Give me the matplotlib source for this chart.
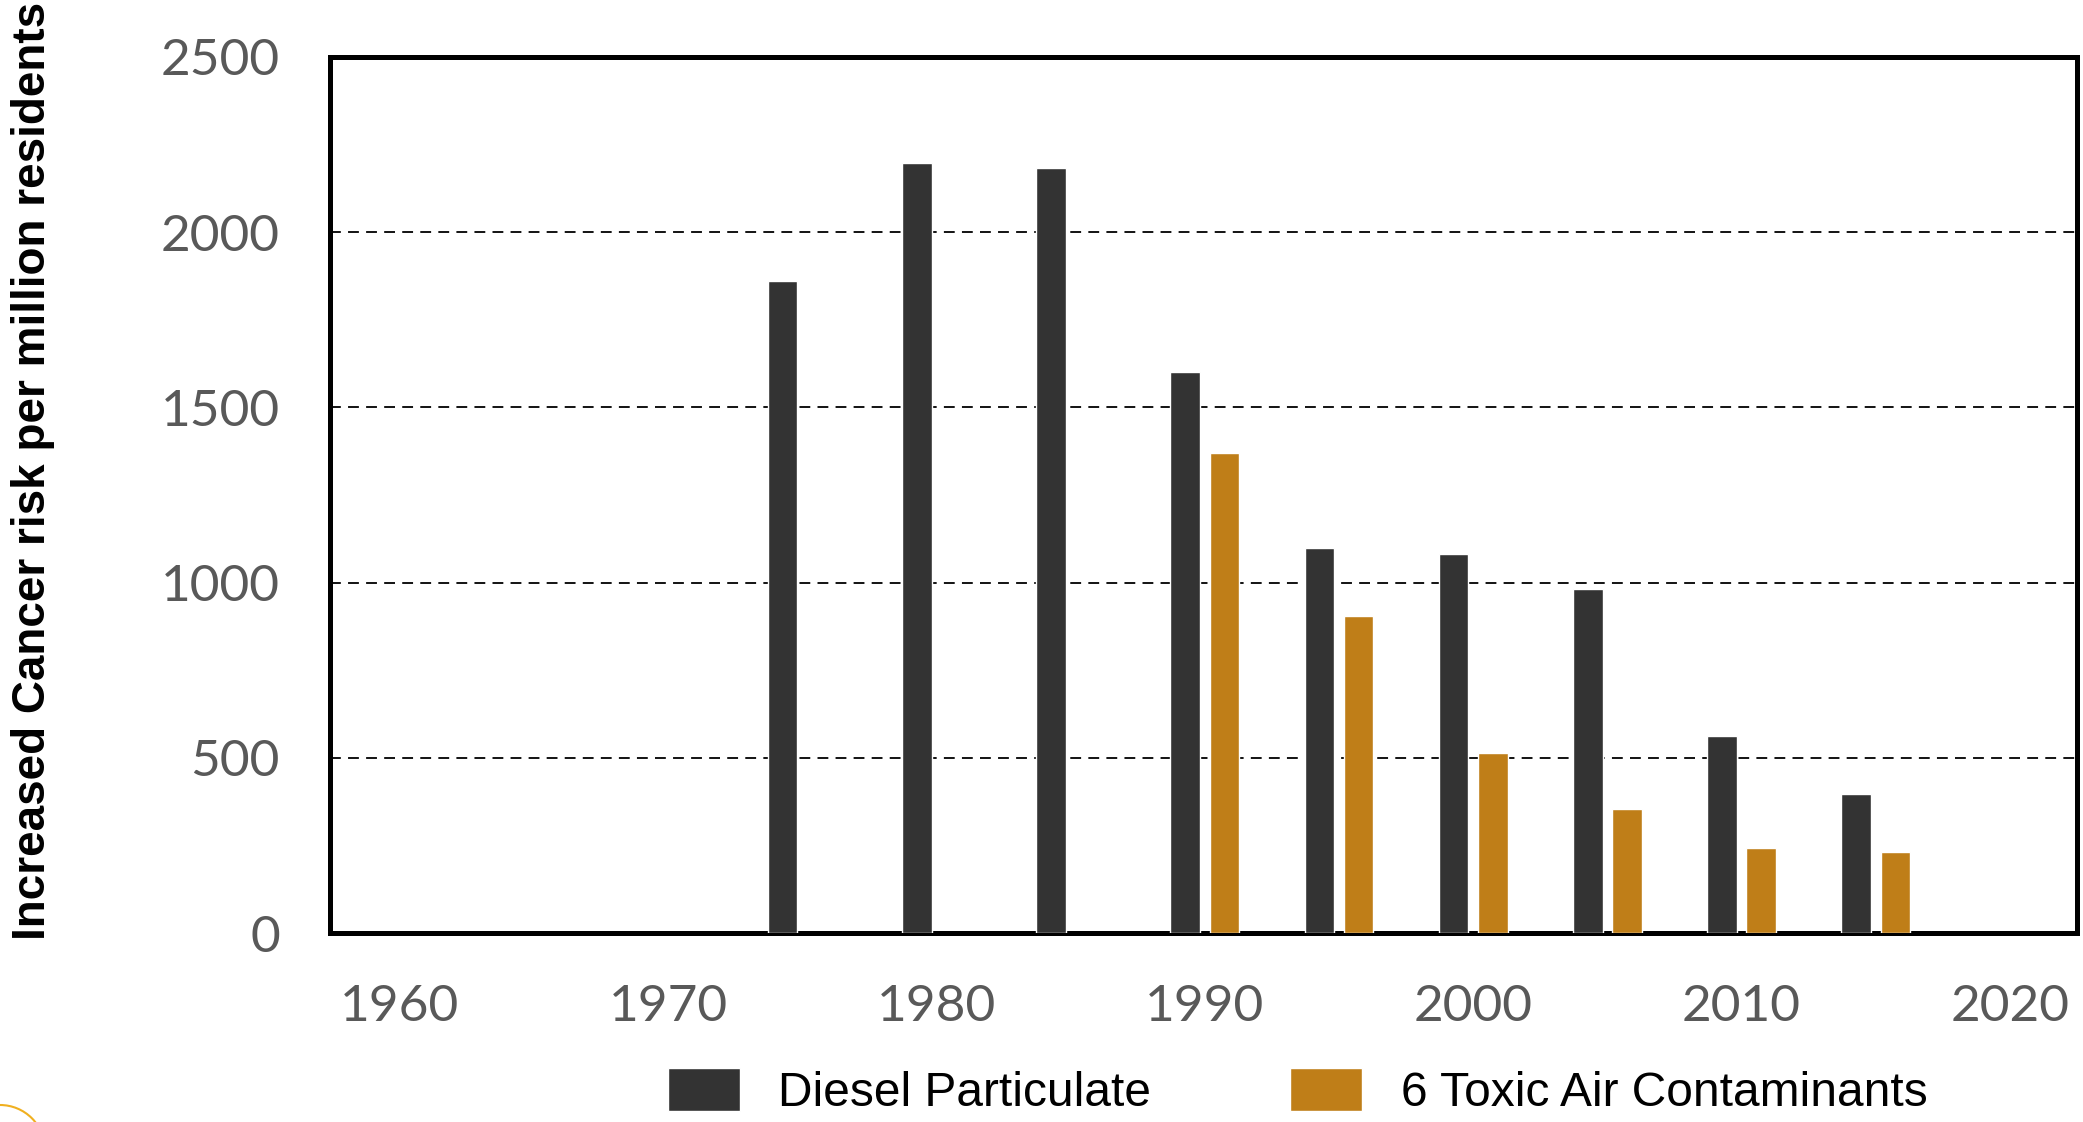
import matplotlib
matplotlib.use("Agg")
import matplotlib.pyplot as plt
import numpy as np
from matplotlib.patches import Circle

# Data
years = [1975, 1980, 1985, 1990, 1995, 2000, 2005, 2010, 2015]
diesel = [1860, 2197, 2182, 1600, 1099, 1081, 983, 561, 398]
toxic_years = [1990, 1995, 2000, 2005, 2010, 2015]
toxic = [1369, 905, 515, 354, 242, 231]

y_ticks = [0, 500, 1000, 1500, 2000, 2500]
x_ticks = [1960, 1970, 1980, 1990, 2000, 2010, 2020]

dark = "#333333"
gold = "#BF7E18"
gray = "#595959"

fig = plt.figure(figsize=(20.83, 11.22), dpi=100)
ax = fig.add_axes([0.1584, 0.1684, 0.8387, 0.7808])

off = 0.73
w = 1.1
ax.bar(np.array(years) - off, diesel, width=w, color=dark, edgecolor="white", linewidth=1, zorder=3,
       label="Diesel Particulate")
ax.bar(np.array(toxic_years) + off, toxic, width=w, color=gold, edgecolor="white", linewidth=1, zorder=3,
       label="6 Toxic Air Contaminants")

ax.set_xlim(1957.4, 2022.5)
ax.set_ylim(0, 2500)
ax.set_yticks(y_ticks)
ax.set_xticks(x_ticks)

# dashed grid lines behind bars
for v in y_ticks[1:-1]:
    ax.axhline(v, color="black", lw=1.3, ls=(0, (6, 4)), zorder=1)

for s in ax.spines.values():
    s.set_linewidth(3.6)
    s.set_color("black")

ax.tick_params(axis="both", length=0, colors=gray, labelsize=37)
ax.tick_params(axis="y", pad=36)
ax.tick_params(axis="x", pad=37)
for lab in ax.get_xticklabels() + ax.get_yticklabels():
    lab.set_fontfamily("Lato")

fig.text(0.0158, 0.58, "Increased Cancer risk per million residents", rotation=90,
         ha="center", va="center", fontsize=33, fontweight="bold", family="Liberation Sans")

fig.legend(loc="center", bbox_to_anchor=(0.623, 0.027), ncol=2, frameon=False,
           prop={"family": "Liberation Sans", "size": 34.5},
           handlelength=1.5, handleheight=1.0, handletextpad=0.8, columnspacing=2.9)

# small decorative arc in the bottom left corner
fig.patches.append(Circle((0, -28), 45, transform=None, fill=False, edgecolor="#F0B020", lw=1.5))

fig.savefig("out.png", dpi=100)
